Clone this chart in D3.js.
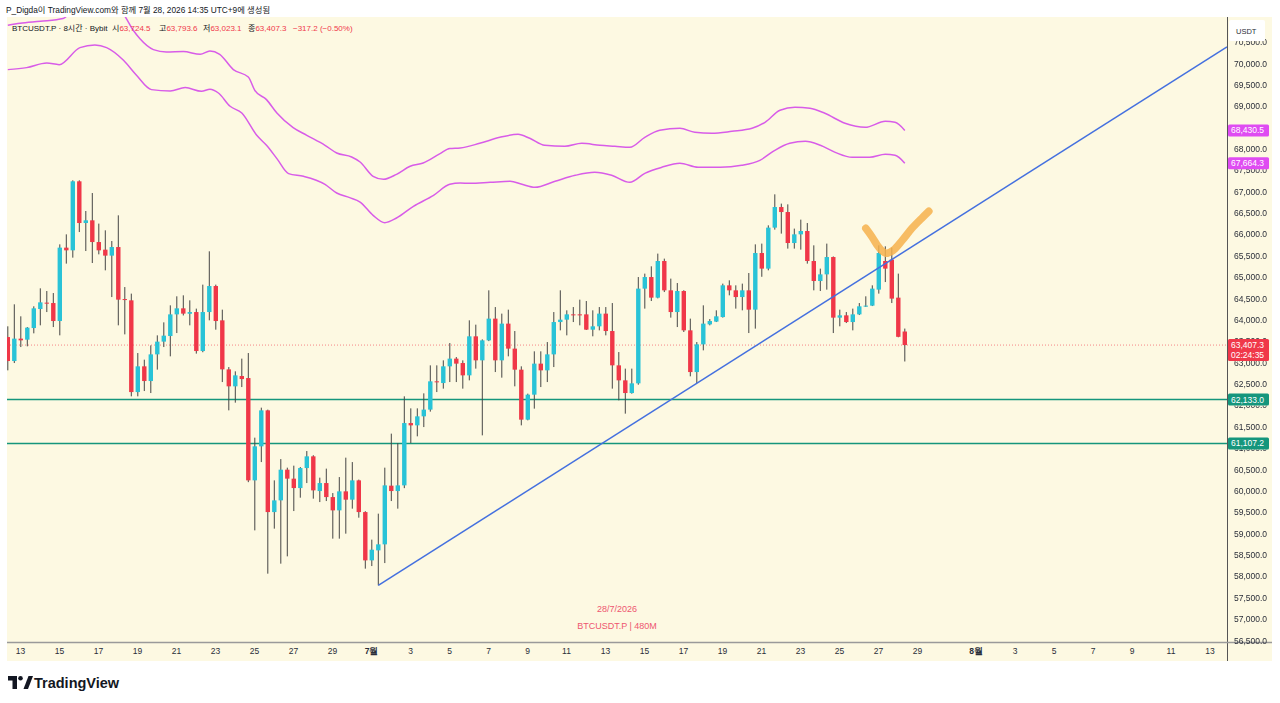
<!DOCTYPE html>
<html><head><meta charset="utf-8">
<script src="https://cdn.jsdelivr.net/npm/d3@7/dist/d3.min.js"></script>
<style>
html,body{margin:0;padding:0;background:#fff;}
svg{display:block;font-family:"Liberation Sans","Noto Sans CJK KR",sans-serif;}
</style></head><body>
<svg id="c" width="1280" height="703"></svg>
<script>
// ---------------- data ----------------
const titleText = "P_Digda이 TradingView.com와 함께 7월 28, 2026 14:35 UTC+9에 생성됨";
const symbolText = "BTCUSDT.P · 8시간 · Bybit";
const ohlcLabels = ["시", "고", "저", "종"];
const ohlcValues = ["63,724.5", "63,793.6", "63,023.1", "63,407.3"];
const changeText = "−317.2 (−0.50%)";
const firstCandle = Date.UTC(2026, 5, 12, 9); // KST wall clock, 8h candles
const candleHours = 8;

const opens = [63595,63034,63558,63534,63806,64251,64400,64391,63970,65687,
65624,67239,66263,66326,65818,65640,65500,65701,64484,64454,
62308,62910,62566,63190,63488,63619,64126,64267,64140,64180,
63268,64180,64789,63986,62839,62442,62683,62636,60242,61038,
61880,59500,59774,60492,60282,60062,60530,60804,59992,60179,
59851,59540,59985,59790,60242,59500,58370,58604,58745,60118,
59992,60125,61583,61529,61740,61897,62559,62519,62910,63090,
62987,62699,63612,63050,63518,64026,63050,63909,63324,62832,
61662,62247,62973,62816,63190,63946,64002,64126,64126,64126,
63768,63846,64143,63736,62933,62582,62285,62512,64728,64999,
64517,65374,64688,64180,64672,63752,62776,63424,63892,63956,
64063,64805,64688,64531,64688,64236,65561,65196,66155,66637,
66520,65795,65998,66076,65374,64906,65062,65467,64049,64103,
63946,64126,64314,64330,64705,65374,65407,64517,63724.5];
const highs = [63846,64361,64080,63829,64314,64735,64672,64625,65764,65998,
67262,67262,66544,66965,66249,66092,65842,66443,64765,64611,
63221,63066,63401,63635,63939,64337,64548,64571,64454,64260,
64821,65601,64821,64236,62893,62793,63090,63221,61241,61943,
61897,60242,60740,60539,60586,60553,60928,60830,60305,60516,
59945,60319,60773,60670,60260,59520,58855,59463,60539,61335,
61115,62208,61927,61927,62278,62933,62933,63050,63455,63127,
63050,63986,63885,63540,64688,64297,64143,64236,63736,62910,
62271,63261,63261,63478,64180,64688,64220,64297,64470,64438,
64220,64297,64297,64391,63244,62856,62856,64999,65079,65250,
65547,65430,64962,64859,64690,64026,63478,64337,64016,64220,
64845,64922,64805,64845,65093,65764,65781,66209,66934,66717,
66700,66132,66342,66263,65741,65196,65781,65480,64236,64180,
64260,64391,64548,64805,65741,65718,65687,65079,63793.6];
const lows = [62816,62987,63361,63378,63682,63869,64180,63829,63635,65313,
65453,66052,65608,65327,65530,65156,64531,63869,63658,62208,
62208,62332,62285,62833,63361,63144,63689,64100,63869,63207,
63240,63986,63768,62542,61880,62060,62425,60200,59072,60670,
58059,59112,58293,58464,59524,59837,60179,59814,59734,59758,
58878,58878,58995,59580,59369,58176,58237,57785,58307,59758,
59580,60060,61115,61272,61489,61850,62308,62388,62542,62542,
62388,62582,62856,61295,63500,62776,62645,63144,62442,61529,
61646,61920,62425,62542,62893,63752,63635,63946,63869,63760,
63612,63752,63635,62388,62114,61803,62270,62480,64260,64438,
64500,64648,64049,63829,63713,62676,62519,63284,63869,63946,
64050,64571,64260,64220,63689,63792,65005,65156,66108,66015,
65664,65664,65640,65313,64688,64672,64704,63689,63846,63923,
63752,64110,64300,64320,64611,64882,64391,63590,63023.1];
const closes = [63034,63558,63518,63815,64267,64407,64384,63970,65687,65624,
67239,66263,66326,65818,65624,65500,65701,64470,64470,62308,
62910,62566,63190,63488,63628,64126,64267,64143,64180,63268,
64180,64789,63970,62839,62442,62699,62612,60242,61038,61880,
59500,59774,60492,60282,60062,60530,60804,60008,60179,59851,
59540,59985,59790,60242,59500,58370,58620,58745,60125,59992,
60125,61583,61529,61740,61897,62559,62536,62910,63090,62973,
62699,63612,63050,63518,64026,63050,63909,63324,62832,61662,
62247,62973,62816,63190,63946,64002,64126,64103,64110,63768,
63846,64143,63736,62933,62582,62285,62512,64728,64999,64517,
65374,64688,64180,64672,63752,62776,63424,63909,63970,64080,
64805,64688,64531,64688,64236,65561,65196,66155,66637,66520,
65795,65998,66076,65374,64906,65062,65467,64049,64103,63946,
64126,64314,64330,64728,65561,65196,64494,63600,63407.3];

// envelope bands (sampled at candle index)
const upperIdx = [0,1.9,5,8.5,11.1,13.4,15.2,17.8,19.3,20.3,22.4,24.4,27,29.6,31.1,32.6,34.7,37,38,39.8,41.4,43.9,46,48.8,50.6,52.9,54.2,56.2,57.8,59.8,61.9,63.9,66.5,68,69.6,72.6,75.7,78.5,80.3,82.6,85.7,88.3,91.1,93.4,95.7,98,100.3,103.4,105.7,108.3,111.4,114.5,116.5,118.8,121.1,123.4,125.7,128.8,131.9,135,136.5,138];
const upperVal = [70889,70936,70983,71046,71450,71510,71450,71150,70772,70578,70320,70264,70274,70210,70288,70210,69852,69679,69368,69150,68837,68495,68315,68081,67901,67807,67690,67356,67285,67402,67590,67667,67887,68004,68018,68128,68268,68338,68245,68081,68058,68128,68081,68058,68034,68268,68432,68479,68385,68362,68409,68479,68619,68900,68970,68947,68830,68596,68502,68643,68619,68430.5];
const lowerIdx = [0,2.9,6,7.9,11.1,13.4,15.2,17.8,19.8,22.1,25,27.3,29.8,31.1,32.4,34.2,36,38.3,39.8,41.4,43.2,45.5,48.8,50.6,52.6,54.2,56.2,58,59.8,62.4,65.5,68,69.6,71.1,74.2,77.3,79.1,81.1,84.2,87.3,90.3,92.9,95.7,98,100.6,103.4,106.2,109.6,112.9,115.7,118,120.3,122.7,125,127.3,129.9,132.6,135,136.5,138];
const lowerVal = [69852,69899,70007,69969,70367,70428,70367,70070,69719,69384,69352,69431,69345,69391,69305,68994,68837,68315,68081,67770,67419,67356,67168,66965,66857,66754,66443,66272,66380,66654,66911,67168,67199,67192,67215,67239,67168,67098,67239,67379,67449,67379,67215,67426,67566,67660,67566,67566,67613,67730,67964,68128,68175,68081,67917,67800,67800,67870,67847,67664.3];
const upperLabel = "68,430.5", lowerLabel = "67,664.3";

const supportLevels = [62133.0, 61107.2];
const lastPrice = 63407.3, countdown = "02:24:35";
const trendIdx = [57, 106], trendVal = [57785, 62514];
const markIdx = [132.0,133,134,135.1,136.2,137.6,139.1,140.6,141.7];
const markVal = [66139,65928,65694,65554,65624,65858,66139,66373,66537];

const priceTicks = d3.range(56500, 70501, 500);
const dateTicks = ["2026-06-13","2026-06-15","2026-06-17","2026-06-19","2026-06-21","2026-06-23","2026-06-25","2026-06-27","2026-06-29",
"2026-07-01","2026-07-03","2026-07-05","2026-07-07","2026-07-09","2026-07-11","2026-07-13","2026-07-15","2026-07-17","2026-07-19","2026-07-21","2026-07-23","2026-07-25","2026-07-27","2026-07-29",
"2026-08-01","2026-08-03","2026-08-05","2026-08-07","2026-08-09","2026-08-11","2026-08-13"];
const watermark = ["28/7/2026", "BTCUSDT.P | 480M"];

// ---------------- layout ----------------
const plotL = 7, plotR = 1227, plotT = 17, plotB = 642;
const paneR = 1272, paneB = 661;
const firstX = 7.8, candleW = 6.5;
const HOUR = 3600e3;
const C = { bg:"#fdf9e2", up:"#29c3d7", down:"#f03748", wick:"#454545", band:"#d85ce8", bandBox:"#df4cf2",
  green:"#15967c", blue:"#4470df", orange:"#f6b14c", text:"#2a2e39", red:"#f0384a" };

const tAt = i => firstCandle + i * candleHours * HOUR;
const x = d3.scaleUtc()
  .domain([tAt(-(firstX - plotL) / candleW), tAt((plotR - firstX) / candleW)])
  .range([plotL, plotR]);
const y = d3.scaleLinear().domain([56500, 70000]).range([640.3, 63.3]);

const svg = d3.select("#c");
svg.append("rect").attr("width",1280).attr("height",703).attr("fill","#fff");
svg.append("rect").attr("x",plotL).attr("y",plotT).attr("width",paneR-plotL).attr("height",paneB-plotT).attr("fill",C.bg);

const defs = svg.append("defs");
defs.append("clipPath").attr("id","clip")
  .append("rect").attr("x",plotL).attr("y",plotT).attr("width",plotR-plotL).attr("height",plotB-plotT);
const g = svg.append("g").attr("clip-path","url(#clip)");

// bands
const bandLine = d3.line().x(d => x(tAt(d[0]))).y(d => y(d[1])).curve(d3.curveMonotoneX);
[[upperIdx, upperVal],[lowerIdx, lowerVal]].forEach(([ix, vs]) => {
  g.append("path").datum(ix.map((v,k)=>[v, vs[k]]))
   .attr("d", bandLine).attr("fill","none").attr("stroke",C.band).attr("stroke-width",1.5);
});

// horizontal support lines
supportLevels.forEach(v => {
  g.append("line").attr("x1",plotL).attr("x2",plotR).attr("y1",y(v)).attr("y2",y(v))
   .attr("stroke",C.green).attr("stroke-width",1.5);
});
// last price dotted
g.append("line").attr("x1",plotL).attr("x2",plotR).attr("y1",y(lastPrice)).attr("y2",y(lastPrice))
  .attr("stroke",C.red).attr("stroke-width",1).attr("stroke-dasharray","1,2").attr("opacity",0.6);

// candles
const idx = d3.range(opens.length);
const bw = 4.4;
g.append("g").selectAll("line").data(idx).join("line")
  .attr("x1", i => x(tAt(i))).attr("x2", i => x(tAt(i)))
  .attr("y1", i => y(highs[i])).attr("y2", i => y(lows[i]))
  .attr("stroke", C.wick).attr("stroke-width",1);
g.append("g").selectAll("rect").data(idx).join("rect")
  .attr("x", i => x(tAt(i)) - bw/2).attr("width", bw)
  .attr("y", i => y(Math.max(opens[i], closes[i])))
  .attr("height", i => Math.max(1, Math.abs(y(opens[i]) - y(closes[i]))))
  .attr("fill", i => closes[i] >= opens[i] ? C.up : C.down);

// trend line, extended to the right edge
const idxEnd = (x.domain()[1] - firstCandle) / (candleHours * HOUR);
const slope = (trendVal[1]-trendVal[0])/(trendIdx[1]-trendIdx[0]);
const endVal = trendVal[0] + slope*(idxEnd - trendIdx[0]);
g.append("line").attr("x1", x(tAt(trendIdx[0]))).attr("y1", y(trendVal[0]))
  .attr("x2", x(tAt(idxEnd))).attr("y2", y(endVal))
  .attr("stroke", C.blue).attr("stroke-width",1.5);

// orange hand-drawn V
g.append("path").datum(markIdx.map((v,k)=>[v, markVal[k]]))
  .attr("d", d3.line().x(d=>x(tAt(d[0]))).y(d=>y(d[1])).curve(d3.curveCatmullRom))
  .attr("fill","none").attr("stroke",C.orange).attr("stroke-width",7.5)
  .attr("stroke-linecap","round").attr("stroke-linejoin","round").attr("opacity",0.85);

// watermark
watermark.forEach((t,k) => {
  svg.append("text").attr("x", 617).attr("y", 612 + k*17).attr("text-anchor","middle")
    .attr("font-size", 9).attr("fill", "#ee5670").text(t);
});

// axes frame
svg.append("line").attr("x1",plotR+0.5).attr("x2",plotR+0.5).attr("y1",plotT).attr("y2",paneB)
  .attr("stroke","#555").attr("stroke-width",1);
svg.append("line").attr("x1",plotL).attr("x2",paneR).attr("y1",plotB+0.5).attr("y2",plotB+0.5)
  .attr("stroke","#9a9a9a").attr("stroke-width",1.5);

// price-axis boxes (drawn over the tick labels, as in the reference)
const boxes = [
  {v: upperVal[upperVal.length-1], label: upperLabel, fill: C.bandBox},
  {v: lowerVal[lowerVal.length-1], label: lowerLabel, fill: C.bandBox},
  {v: lastPrice, label: d3.format(",.1f")(lastPrice), fill: C.red, extra: countdown},
  ...supportLevels.map(v => ({v, label: d3.format(",.1f")(v), fill: C.green}))
];
// mask so tick labels are hidden where boxes cover them
const mask = defs.append("mask").attr("id","tickMask");
mask.append("rect").attr("x",plotR).attr("y",0).attr("width",60).attr("height",703).attr("fill","#fff");
boxes.forEach(b => mask.append("rect").attr("x",plotR+1).attr("y",y(b.v)-6)
  .attr("width",41).attr("height",b.extra?22:12).attr("fill","#000"));
mask.append("rect").attr("x",1229).attr("y",20).attr("width",36).attr("height",21).attr("fill","#000");

// price axis
const yAxis = d3.axisRight(y).tickValues(priceTicks).tickFormat(d3.format(",.1f")).tickSize(0).tickPadding(7);
const ya = svg.append("g").attr("transform",`translate(${plotR},0)`).call(yAxis);
ya.select(".domain").remove();
ya.selectAll("text").attr("font-size",8.5).attr("fill",C.text).attr("font-family",null);
const yaWrap = svg.append("g").attr("mask","url(#tickMask)");
yaWrap.node().appendChild(ya.node());

// time axis
const parse = d3.utcParse("%Y-%m-%d");
const tickDates = dateTicks.map(parse);
const xAxis = d3.axisBottom(x).tickValues(tickDates).tickSize(0).tickPadding(6)
  .tickFormat(d => d.getUTCDate() === 1 ? (d.getUTCMonth()+1) + "월" : d.getUTCDate());
const xa = svg.append("g").attr("transform",`translate(0,${plotB})`).call(xAxis);
xa.select(".domain").remove();
xa.selectAll("text").attr("font-size",8.5).attr("fill",C.text).attr("font-family",null)
  .attr("font-weight", d => d.getUTCDate() === 1 ? "bold" : null);

boxes.forEach(b => {
  const top = y(b.v) - 6;
  svg.append("rect").attr("x", plotR+1).attr("y", top).attr("width", 41).attr("height", b.extra ? 22 : 12)
    .attr("rx",1.5).attr("fill", b.fill);
  svg.append("text").attr("x", plotR+4).attr("y", top+9).attr("font-size",8.5).attr("fill","#fff").text(b.label);
  if (b.extra) svg.append("text").attr("x", plotR+4).attr("y", top+19).attr("font-size",8.5).attr("fill","#fff").text(b.extra);
});

// USDT box
svg.append("rect").attr("x",1229).attr("y",20).attr("width",36).attr("height",21).attr("rx",2).attr("fill","#fff");
svg.append("text").attr("x",1236).attr("y",33.5).attr("font-size",7.5).attr("fill",C.text).text("USDT");

// header texts
svg.append("text").attr("x",6).attr("y",13).attr("font-size",8.3).attr("fill","#131722").text(titleText);
const lg = svg.append("text").attr("x",12).attr("y",31).attr("font-size",8).attr("fill","#131722");
lg.append("tspan").text(symbolText);
const legX = [112, 159, 203, 248];
ohlcLabels.forEach((l,k) => {
  lg.append("tspan").attr("x", legX[k]).attr("fill","#131722").text(l);
  lg.append("tspan").attr("fill",C.red).text(ohlcValues[k]);
});
lg.append("tspan").attr("x",293).attr("fill",C.red).text(changeText);

// TradingView logo
const logo = svg.append("g").attr("transform","translate(8,676)");
logo.append("path").attr("d","M0 0 H9 V13 H4.5 V4.5 H0 Z").attr("fill","#131722");
logo.append("circle").attr("cx",12.5).attr("cy",2.3).attr("r",2.3).attr("fill","#131722");
logo.append("path").attr("d","M15.5 13 L20.5 0 H25 L20 13 Z").attr("fill","#131722");
svg.append("text").attr("x",34).attr("y",688).attr("font-size",14.5).attr("font-weight","bold")
  .attr("fill","#131722").text("TradingView");
</script></body></html>
